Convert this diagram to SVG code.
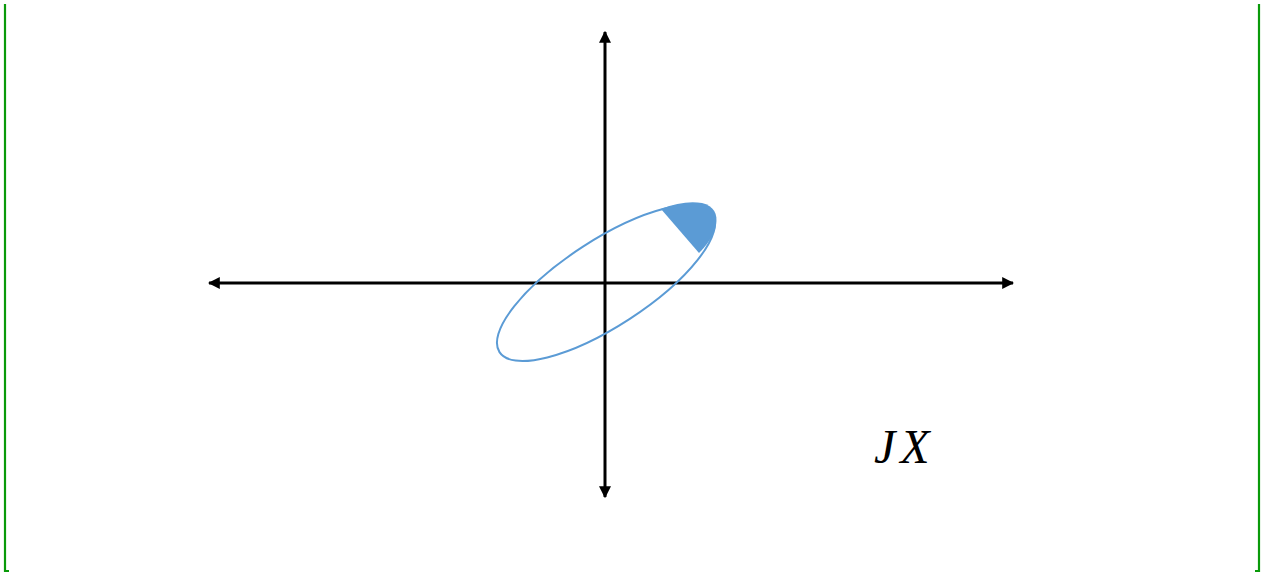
<svg xmlns="http://www.w3.org/2000/svg" width="1263" height="574" viewBox="0 0 1263 574">
<style>
.bracket{fill:none;stroke:#0a9a0a;stroke-width:2.2}
.axis{fill:none;stroke:#000;stroke-width:3}
.ell{fill:none;stroke:#5b9bd5;stroke-width:2}
.wedge{fill:#5b9bd5;stroke:none}
.lbl{font-family:"Liberation Serif","DejaVu Serif",serif;font-style:italic;font-size:48px;fill:#000}
</style>
<defs>
<marker id="ah" viewBox="0 0 10 10" refX="9" refY="5" markerWidth="4" markerHeight="4" orient="auto" markerUnits="strokeWidth">
<path d="M0,0 L10,5 L0,10 z" fill="#000"/>
</marker>
</defs>
<rect width="1263" height="574" fill="#fff"/>
<g id="brackets">
<path class="bracket" d="M5,4 V571 H9"/>
<path class="bracket" d="M1259,4 V571 H1255"/>
</g>
<g id="connectors">
<line class="axis" x1="605" y1="283" x2="209" y2="283" marker-end="url(#ah)"/>
<line class="axis" x1="605" y1="283" x2="1013" y2="283" marker-end="url(#ah)"/>
<line class="axis" x1="605" y1="283" x2="605" y2="32" marker-end="url(#ah)"/>
<line class="axis" x1="605" y1="283" x2="605" y2="497" marker-end="url(#ah)"/>
</g>
<g id="ellipse">
<ellipse class="ell" cx="606" cy="283" rx="127" ry="43" transform="rotate(-33 606 283)"/>
<path class="wedge" d="M661,209 C676,203 690,201 702,203 C714,206 718,214 716,225 C714,236 706,246 699,253 Z"/>
</g>
<g id="label">
<text class="lbl" x="874" y="463">J<tspan dx="5">X</tspan></text>
</g>
</svg>
